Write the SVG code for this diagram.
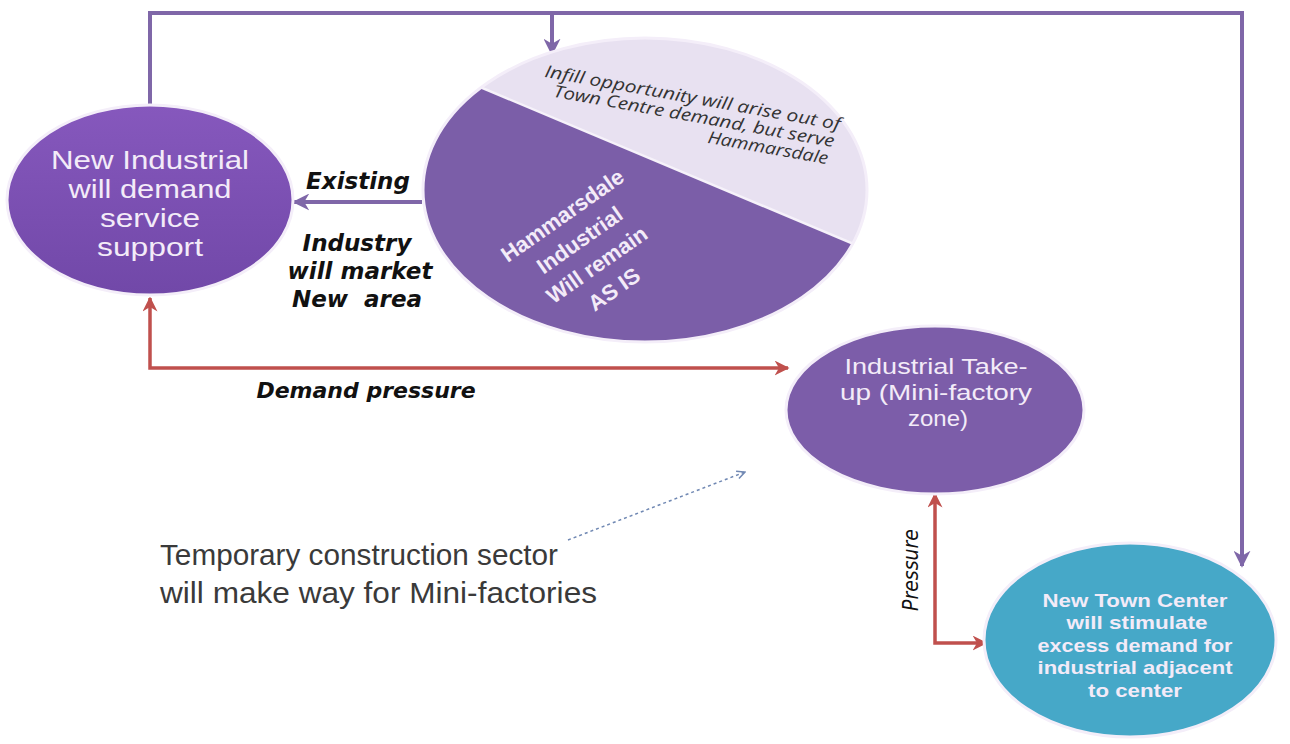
<svg xmlns="http://www.w3.org/2000/svg" width="1290" height="744" viewBox="0 0 1290 744">
<defs>
<style>
.node{stroke:#f4eef9;stroke-width:3}
.ntext{font-family:"Liberation Sans",Arial,sans-serif;fill:#f3ebf8;text-anchor:middle}
.lbl{font-family:"DejaVu Sans",sans-serif;font-weight:bold;font-style:italic;fill:#111;text-anchor:middle}
.pc{fill:none;stroke:#7f67a8;stroke-width:4}
.rc{fill:none;stroke:#c0504d;stroke-width:3.5}
.note{font-family:"Liberation Sans",Arial,sans-serif;font-size:29px;fill:#3a3a3a}
</style>
<marker id="ap" viewBox="0 0 10 10" refX="9" refY="5" markerWidth="17" markerHeight="17" markerUnits="userSpaceOnUse" orient="auto"><path d="M0,0 L10,5 L0,10 L3,5 Z" fill="#7f67a8"/></marker>
<marker id="ar" viewBox="0 0 10 10" refX="9" refY="5" markerWidth="15" markerHeight="15" markerUnits="userSpaceOnUse" orient="auto-start-reverse"><path d="M0,0 L10,5 L0,10 L3,5 Z" fill="#c0504d"/></marker>
<marker id="ad" viewBox="0 0 10 10" refX="9" refY="5" markerWidth="10" markerHeight="10" markerUnits="userSpaceOnUse" orient="auto"><path d="M1,1 L9,5 L1,9" fill="none" stroke="#7088b3" stroke-width="1.5"/></marker>
<clipPath id="hc"><ellipse cx="645" cy="190" rx="222" ry="152"/></clipPath>
<linearGradient id="gL" x1="0" y1="0" x2="0" y2="1"><stop offset="0" stop-color="#8658bd"/><stop offset="1" stop-color="#7148a8"/></linearGradient>
</defs>
<g id="connectors">
<path class="pc" d="M150,106 V13 H1242 V566" marker-end="url(#ap)"/>
<path class="pc" d="M552,13 V54" marker-end="url(#ap)"/>
<path class="pc" d="M422,202 H294" marker-end="url(#ap)"/>
<path class="rc" d="M150,298 V368 H788" marker-start="url(#ar)" marker-end="url(#ar)"/>
<path class="rc" d="M935,494 V643 H986" marker-start="url(#ar)" marker-end="url(#ar)"/>
<path d="M568,540 L745,472" fill="none" stroke="#7088b3" stroke-width="1.5" stroke-dasharray="3,3" marker-end="url(#ad)"/>
</g>
<g id="node-new-industrial">
<ellipse class="node" cx="150" cy="200" rx="143" ry="95" fill="url(#gL)"/>
<g class="ntext" font-size="25">
<text class="ntext" x="150" y="169" textLength="198" lengthAdjust="spacingAndGlyphs">New Industrial</text>
<text class="ntext" x="150" y="198" textLength="163" lengthAdjust="spacingAndGlyphs">will demand</text>
<text class="ntext" x="150" y="227" textLength="100" lengthAdjust="spacingAndGlyphs">service</text>
<text class="ntext" x="150" y="256" textLength="106" lengthAdjust="spacingAndGlyphs">support</text>
</g>
</g>
<g id="node-hammarsdale">
<ellipse cx="645" cy="190" rx="222" ry="152" fill="#7b5ea8"/>
<polygon clip-path="url(#hc)" points="400,0 900,0 900,263.4 400,53.4" fill="#e8e1f1"/>
<line clip-path="url(#hc)" x1="400" y1="53.4" x2="900" y2="263.4" stroke="#f6f2fa" stroke-width="2.5"/>
<ellipse cx="645" cy="190" rx="222" ry="152" fill="none" stroke="#f4eef9" stroke-width="3"/>
<g transform="translate(840,126) rotate(10.2)" font-family="'Open Sans',sans-serif" font-style="italic" font-size="17" fill="#333" text-anchor="end">
<text x="0" y="4" textLength="300" lengthAdjust="spacingAndGlyphs">Infill opportunity will arise out of</text>
<text x="-3" y="22" textLength="285" lengthAdjust="spacingAndGlyphs">Town Centre demand, but serve</text>
<text x="-6" y="40" textLength="122" lengthAdjust="spacingAndGlyphs">Hammarsdale</text>
</g>
<g transform="translate(588,252) rotate(-35)" class="ntext" font-size="22" font-weight="bold">
<text class="ntext" x="0" y="-37">Hammarsdale</text>
<text class="ntext" x="0" y="-7">Industrial</text>
<text class="ntext" x="0" y="23">Will remain</text>
<text class="ntext" x="0" y="53">AS IS</text>
</g>
</g>
<g id="node-takeup">
<ellipse class="node" cx="935" cy="410" rx="149" ry="84" fill="#7c5da9"/>
<g class="ntext" font-size="22">
<text class="ntext" x="936" y="374" textLength="183" lengthAdjust="spacingAndGlyphs">Industrial Take-</text>
<text class="ntext" x="936" y="400" textLength="192" lengthAdjust="spacingAndGlyphs">up (Mini-factory</text>
<text class="ntext" x="938" y="426" textLength="60" lengthAdjust="spacingAndGlyphs">zone)</text>
</g>
</g>
<g id="node-towncenter">
<ellipse class="node" cx="1130" cy="640" rx="146" ry="97" fill="#46a8c8"/>
<g class="ntext" font-size="19" font-weight="bold" fill="#e8f4fa">
<text class="ntext" x="1135" y="607" textLength="185" lengthAdjust="spacingAndGlyphs">New Town Center</text>
<text class="ntext" x="1137" y="629" textLength="141" lengthAdjust="spacingAndGlyphs">will stimulate</text>
<text class="ntext" x="1135" y="652" textLength="195" lengthAdjust="spacingAndGlyphs">excess demand for</text>
<text class="ntext" x="1135" y="674" textLength="195" lengthAdjust="spacingAndGlyphs">industrial adjacent</text>
<text class="ntext" x="1135" y="697" textLength="94" lengthAdjust="spacingAndGlyphs">to center</text>
</g>
</g>
<g id="labels">
<text class="lbl" font-size="23" x="358" y="189">Existing</text>
<text class="lbl" font-size="23" x="357" y="251">Industry</text>
<text class="lbl" font-size="23" x="360" y="279">will market</text>
<text class="lbl" font-size="23" x="357" y="307" style="white-space:pre">New  area</text>
<text class="lbl" font-size="22" x="366" y="398">Demand pressure</text>
<text transform="translate(918,570) rotate(-90)" font-family="'DejaVu Sans Condensed','DejaVu Sans',sans-serif" font-style="italic" font-size="21" fill="#111" text-anchor="middle">Pressure</text>
<text class="note" x="160" y="565" textLength="398" lengthAdjust="spacingAndGlyphs">Temporary construction sector</text>
<text class="note" x="160" y="603" textLength="437" lengthAdjust="spacingAndGlyphs">will make way for Mini-factories</text>
</g>
</svg>
